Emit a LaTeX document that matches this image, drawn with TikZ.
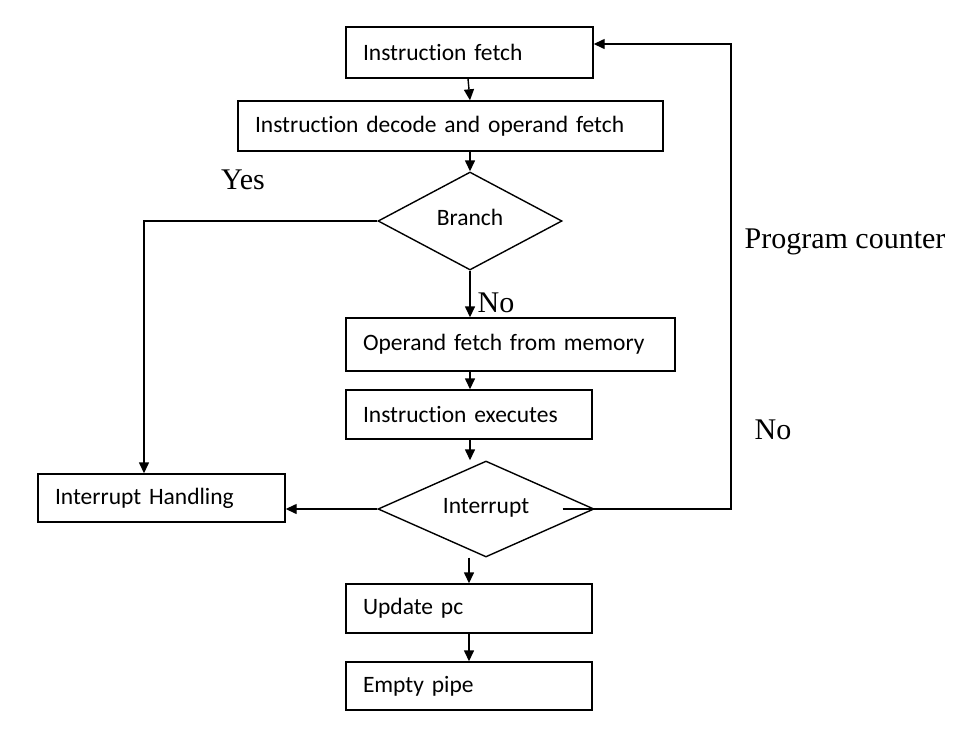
\documentclass[tikz,border=0pt]{standalone}
\usepackage{fontspec}
\setmainfont{Liberation Serif}
\newfontfamily\boxfont{Carlito}[Ligatures=NoCommon]
\usetikzlibrary{shapes.geometric,arrows.meta}
\newcommand{\dtext}[1]{\makebox[0pt]{\smash{\raisebox{-4.5pt}{#1}}}}
\begin{document}
\begin{tikzpicture}[x=1pt,y=-1pt,
  line width=1.4pt,
  box/.style={draw, rectangle, minimum height=#1, inner xsep=17pt, inner ysep=0pt, align=left, font=\boxfont\fontsize{23.5}{27}\selectfont},
  dia/.style={draw, diamond, inner sep=0pt, font=\boxfont\fontsize{23.5}{27}\selectfont},
  lbl/.style={font=\fontsize{30}{34}\selectfont, inner sep=0pt},
  arr/.style={-{Triangle[length=11pt,width=10pt]}}
]
\useasboundingbox (0,0) rectangle (969,742);
% boxes
\node[box=51, text width=213] (if) at (469.5,52.5) {Instruction fetch};
\node[box=50, text width=391] (dec) at (450.5,126) {Instruction decode and operand fetch};
\node[dia, minimum width=184, minimum height=98] (br) at (470,221) {\dtext{Branch}};
\node[box=53, text width=295] (op) at (510.5,344.5) {Operand fetch from memory};
\node[box=49, text width=212] (ex) at (469,414.5) {Instruction executes};
\node[dia, minimum width=216, minimum height=96] (int) at (486,509) {\dtext{Interrupt}};
\node[box=48, text width=213] (ih) at (161.5,498) {Interrupt Handling};
\node[box=49, text width=212] (up) at (469,608.5) {Update pc};
\node[box=48, text width=212] (pipe) at (469,686) {Empty pipe};
% labels
\node[lbl] (yes) at (243,180) {Yes};
\node[lbl] (no1) at (496,303) {No};
\node[lbl] (pc) at (845,242) {Program counter};
\node[lbl] (no2) at (773,430) {No};
\coordinate (rc) at (731,44);
% connectors
\draw[arr] ([xshift=-1.5pt]if.south) -- ([xshift=19.5pt]dec.north);
\draw[arr] (dec.south -| br.north) -- (br.north);
\draw[arr] (br.south) -- (br.south |- op.north);
\draw[arr] (op.south -| br.south) -- (ex.north -| br.south);
\draw[arr] (ex.south -| br.south) -- (br.south |- int.north);
\draw[arr] (up.north |- int.south) -- (up.north);
\draw[arr] (up.south) -- (pipe.north);
\draw[arr] (br.west) -| ([xshift=-17.5pt]ih.north);
\draw[arr] (int.west) -- (ih.east |- int.west);
\draw[arr] ([xshift=-32pt]int.east) -- (int.east) -- (int.east -| rc) -- (rc) -- (rc -| if.east);
\end{tikzpicture}
\end{document}
